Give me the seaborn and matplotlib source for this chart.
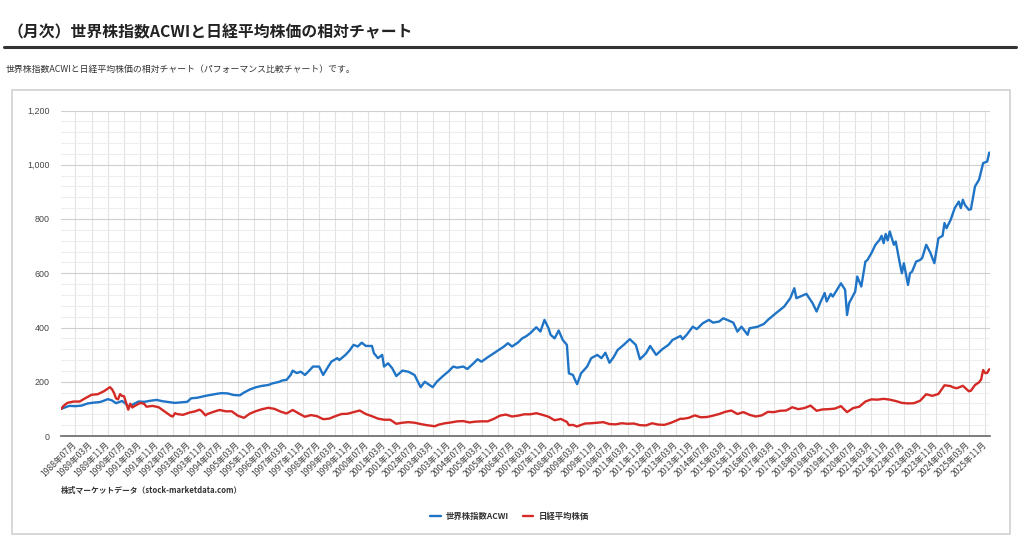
import numpy as np
import pandas as pd
import matplotlib
matplotlib.use("Agg")
import matplotlib.pyplot as plt
from matplotlib.ticker import MultipleLocator, FuncFormatter
from matplotlib.patches import Rectangle
from matplotlib.lines import Line2D
import seaborn as sns

# ---------------- data ----------------
series_names = ["世界株指数ACWI", "日経平均株価"]

acwi_months = [
    "1987-12", "1988-02", "1988-04", "1988-07", "1988-10", "1989-01", "1989-04", "1989-07", "1989-09", "1989-11",
    "1990-01", "1990-03", "1990-06", "1990-08", "1990-09", "1990-11", "1991-02", "1991-05", "1991-08", "1991-11",
    "1992-02", "1992-05", "1992-08", "1992-11", "1993-02", "1993-04", "1993-07", "1993-11", "1994-02", "1994-05",
    "1994-07", "1994-10", "1995-01", "1995-04", "1995-06", "1995-09", "1995-12", "1996-03", "1996-06", "1996-08",
    "1996-11", "1997-01", "1997-03", "1997-05", "1997-06", "1997-08", "1997-10", "1997-12", "1998-02", "1998-04",
    "1998-07", "1998-09", "1998-11", "1999-01", "1999-04", "1999-05", "1999-08", "1999-10", "1999-12", "2000-02",
    "2000-04", "2000-06", "2000-09", "2000-10", "2000-12", "2001-02", "2001-03", "2001-05", "2001-07", "2001-09",
    "2001-12", "2002-03", "2002-06", "2002-09", "2002-11", "2003-01", "2003-03", "2003-05", "2003-08", "2003-11",
    "2004-01", "2004-03", "2004-06", "2004-08", "2004-11", "2005-01", "2005-03", "2005-06", "2005-09", "2005-12",
    "2006-02", "2006-04", "2006-06", "2006-09", "2006-11", "2007-01", "2007-03", "2007-06", "2007-08", "2007-10",
    "2007-12", "2008-01", "2008-03", "2008-05", "2008-07", "2008-08", "2008-09", "2008-10", "2008-12", "2009-01",
    "2009-02", "2009-04", "2009-07", "2009-09", "2009-12", "2010-02", "2010-04", "2010-06", "2010-08", "2010-10",
    "2011-01", "2011-04", "2011-07", "2011-09", "2011-12", "2012-02", "2012-05", "2012-08", "2012-11", "2013-01",
    "2013-05", "2013-06", "2013-08", "2013-11", "2014-01", "2014-04", "2014-07", "2014-09", "2014-12", "2015-02",
    "2015-04", "2015-07", "2015-09", "2015-11", "2016-02", "2016-03", "2016-07", "2016-10", "2016-12", "2017-04",
    "2017-08", "2017-11", "2018-01", "2018-02", "2018-07", "2018-10", "2018-12", "2019-02", "2019-04", "2019-05",
    "2019-07", "2019-08", "2019-12", "2020-02", "2020-03", "2020-04", "2020-07", "2020-08", "2020-10", "2020-12",
    "2021-01", "2021-03", "2021-05", "2021-07", "2021-08", "2021-09", "2021-10", "2021-11", "2021-12", "2022-02",
    "2022-03", "2022-05", "2022-06", "2022-07", "2022-09", "2022-10", "2022-11", "2023-01", "2023-03", "2023-04",
    "2023-06", "2023-08", "2023-10", "2023-12", "2024-02", "2024-03", "2024-04", "2024-06", "2024-08", "2024-10",
    "2024-11", "2024-12", "2025-01", "2025-03", "2025-04", "2025-06", "2025-08", "2025-10", "2025-12", "2026-01",
]
acwi_values = [
    100, 106, 111, 110, 112, 120, 123, 125, 130, 136,
    131, 121, 129, 118, 108, 115, 127, 126, 130, 133,
    128, 125, 122, 124, 126, 139, 141, 148, 152, 156,
    158, 157, 151, 150, 160, 172, 180, 185, 188, 194,
    199, 205, 207, 225, 241, 232, 237, 225, 240, 256,
    256, 225, 250, 274, 287, 280, 299, 315, 336, 330,
    344, 332, 332, 305, 287, 299, 256, 268, 250, 221,
    241, 237, 225, 180, 200, 190, 180, 200, 221, 240,
    256, 252, 256, 247, 268, 283, 274, 290, 305, 320,
    330, 342, 330, 345, 360, 368, 379, 401, 385, 428,
    397, 373, 360, 389, 354, 345, 336, 231, 225, 207,
    191, 231, 256, 287, 299, 287, 307, 270, 290, 317,
    336, 357, 336, 283, 305, 332, 299, 320, 336, 354,
    369, 357, 373, 403, 394, 416, 428, 418, 422, 434,
    428, 418, 385, 403, 373, 397, 403, 413, 428, 453,
    477, 508, 545, 508, 524, 490, 459, 496, 527, 496,
    524, 514, 563, 539, 446, 490, 532, 588, 551, 643,
    649, 674, 705, 723, 738, 711, 745, 721, 754, 705,
    717, 637, 600, 637, 557, 600, 606, 643, 649, 656,
    705, 676, 637, 729, 738, 785, 766, 797, 840, 864,
    840, 871, 852, 834, 836, 920, 945, 1006, 1012, 1045,
]

nikkei_months = [
    "1987-12", "1988-01", "1988-03", "1988-06", "1988-09", "1988-12", "1989-03", "1989-06", "1989-09", "1989-12",
    "1990-01", "1990-02", "1990-03", "1990-04", "1990-05", "1990-06", "1990-07", "1990-08", "1990-09", "1990-10",
    "1990-11", "1990-12", "1991-03", "1991-05", "1991-06", "1991-09", "1991-12", "1992-03", "1992-06", "1992-07",
    "1992-08", "1992-09", "1992-12", "1993-03", "1993-06", "1993-08", "1993-09", "1993-11", "1993-12", "1994-03",
    "1994-06", "1994-09", "1994-12", "1995-03", "1995-06", "1995-09", "1995-12", "1996-03", "1996-06", "1996-09",
    "1996-12", "1997-03", "1997-06", "1997-09", "1997-12", "1998-03", "1998-06", "1998-09", "1998-12", "1999-03",
    "1999-06", "1999-09", "1999-12", "2000-03", "2000-06", "2000-09", "2000-12", "2001-03", "2001-06", "2001-09",
    "2001-12", "2002-03", "2002-06", "2002-09", "2002-12", "2003-03", "2003-04", "2003-06", "2003-09", "2003-12",
    "2004-03", "2004-06", "2004-09", "2004-12", "2005-03", "2005-06", "2005-09", "2005-12", "2006-03", "2006-06",
    "2006-09", "2006-12", "2007-03", "2007-06", "2007-09", "2007-12", "2008-03", "2008-06", "2008-09", "2008-10",
    "2008-12", "2009-02", "2009-03", "2009-06", "2009-09", "2009-12", "2010-03", "2010-06", "2010-09", "2010-12",
    "2011-03", "2011-06", "2011-09", "2011-12", "2012-03", "2012-06", "2012-09", "2012-12", "2013-03", "2013-05",
    "2013-06", "2013-09", "2013-12", "2014-03", "2014-06", "2014-09", "2014-12", "2015-03", "2015-06", "2015-09",
    "2015-12", "2016-03", "2016-06", "2016-09", "2016-12", "2017-03", "2017-06", "2017-09", "2017-12", "2018-03",
    "2018-06", "2018-09", "2018-12", "2019-03", "2019-06", "2019-09", "2019-12", "2020-03", "2020-06", "2020-09",
    "2020-12", "2021-03", "2021-06", "2021-09", "2021-12", "2022-03", "2022-06", "2022-09", "2022-12", "2023-03",
    "2023-06", "2023-09", "2023-12", "2024-03", "2024-06", "2024-07", "2024-09", "2024-12", "2025-03", "2025-04",
    "2025-06", "2025-08", "2025-09", "2025-10", "2025-11", "2025-12", "2026-01",
]
nikkei_values = [
    100, 110, 122, 127, 127, 140, 152, 154, 165, 180,
    172, 158, 139, 135, 154, 148, 146, 121, 97, 119,
    105, 110, 122, 118, 108, 111, 106, 90, 74, 72,
    84, 81, 78, 86, 91, 97, 93, 76, 81, 89,
    96, 91, 91, 75, 67, 83, 92, 99, 104, 100,
    90, 83, 96, 83, 71, 77, 73, 62, 64, 73,
    81, 82, 88, 94, 81, 73, 64, 60, 60, 45,
    49, 51, 49, 44, 40, 37, 36, 42, 47, 50,
    54, 55, 50, 53, 54, 54, 63, 75, 79, 72,
    75, 80, 80, 84, 78, 71, 58, 63, 52, 40,
    41, 35, 38, 46, 47, 49, 51, 44, 43, 47,
    45, 46, 40, 39, 47, 42, 41, 48, 57, 64,
    63, 67, 76, 69, 70, 75, 81, 89, 94, 81,
    88, 78, 72, 76, 89, 88, 93, 94, 106, 99,
    103, 112, 93, 98, 99, 101, 110, 88, 103, 108,
    127, 135, 134, 137, 134, 129, 122, 120, 121, 130,
    154, 148, 155, 187, 184, 180, 176, 185, 165, 167,
    188, 198, 208, 243, 232, 233, 246,
]

tick_labels = [
    "1988年07月", "1989年03月", "1989年11月", "1990年07月", "1991年03月", "1991年11月", "1992年07月",
    "1993年03月", "1993年11月", "1994年07月", "1995年03月", "1995年11月", "1996年07月", "1997年03月",
    "1997年11月", "1998年07月", "1999年03月", "1999年11月", "2000年07月", "2001年03月", "2001年11月",
    "2002年07月", "2003年03月", "2003年11月", "2004年07月", "2005年03月", "2005年11月", "2006年07月",
    "2007年03月", "2007年11月", "2008年07月", "2009年03月", "2009年11月", "2010年07月", "2011年03月",
    "2011年11月", "2012年07月", "2013年03月", "2013年11月", "2014年07月", "2015年03月", "2015年11月",
    "2016年07月", "2017年03月", "2017年11月", "2018年07月", "2019年03月", "2019年11月", "2020年07月",
    "2021年03月", "2021年11月", "2022年07月", "2023年03月", "2023年11月", "2024年07月", "2025年03月",
    "2025年11月",
]

title_text = "（月次）世界株指数ACWIと日経平均株価の相対チャート"
subtitle_text = "世界株指数ACWIと日経平均株価の相対チャート（パフォーマンス比較チャート）です。"
source_text = "株式マーケットデータ（stock-marketdata.com）"
colors = ["#1f74c6", "#d42a25"]

# ---------------- style ----------------
sns.set_theme(style="white")
plt.rcParams["font.family"] = ["Noto Sans CJK JP", "DejaVu Sans"]

W, H = 1024, 541
fig = plt.figure(figsize=(W / 100, H / 100), dpi=100)
fig.patch.set_facecolor("white")

# frame of the chart box
fig.add_artist(Rectangle((12 / W, 1 - 534 / H), (1010 - 12) / W, (534 - 90) / H,
                         transform=fig.transFigure, fill=False,
                         edgecolor="#d4d4d4", lw=1.3))

ax = fig.add_axes([61 / W, (H - 436) / H, (990 - 61) / W, (436 - 110.5) / H])

df = pd.concat([
    pd.DataFrame({"月": pd.to_datetime(acwi_months), "値": acwi_values, "系列": series_names[0]}),
    pd.DataFrame({"月": pd.to_datetime(nikkei_months), "値": nikkei_values, "系列": series_names[1]}),
], ignore_index=True)

sns.lineplot(data=df, x="月", y="値", hue="系列", hue_order=series_names,
             palette=colors, estimator=None, sort=False, lw=1.7, ax=ax)

# axes limits and grid
ax.set_ylim(0, 1200)
ax.set_xlim(pd.Timestamp("1987-11-28"), pd.Timestamp("2026-01-12"))
ax.yaxis.set_major_locator(MultipleLocator(200))
ax.yaxis.set_minor_locator(MultipleLocator(40))
ax.yaxis.set_major_formatter(FuncFormatter(lambda v, p: f"{int(v):,}"))

tick_pos = pd.to_datetime(tick_labels, format="%Y年%m月")
ax.set_xticks(tick_pos)
ax.set_xticklabels(tick_labels, rotation=45, ha="right", va="center",
                   rotation_mode="anchor", fontsize=6.2, color="#444444")

ax.set_axisbelow(True)
ax.grid(which="major", axis="y", color="#cfcfcf", lw=0.8)
ax.grid(which="minor", axis="y", color="#ededed", lw=0.8)
ax.grid(which="major", axis="x", color="#e2e2e2", lw=0.8)
ax.tick_params(axis="both", which="both", length=0)
ax.tick_params(axis="x", pad=5.5)
ax.tick_params(axis="y", pad=8, labelsize=6.4, labelcolor="#444444")
for lab in ax.get_yticklabels():
    lab.set_family(["Liberation Sans", "DejaVu Sans"])

for s in ["left", "top", "right"]:
    ax.spines[s].set_visible(False)
ax.spines["bottom"].set_color("#666666")
ax.spines["bottom"].set_linewidth(1.2)
ax.set_xlabel("")
ax.set_ylabel("")

# legend
sns.move_legend(ax, "center", bbox_to_anchor=(509.5 / W, 1 - 516 / H),
                bbox_transform=fig.transFigure, ncol=2, title=None, frameon=False,
                fontsize=6.0, handlelength=1.3, handletextpad=0.6, columnspacing=1.6)
leg = ax.get_legend()
for t in leg.get_texts():
    t.set_fontweight("bold")
    t.set_color("#333333")
for h in leg.get_lines():
    h.set_linewidth(1.7)

# page texts
fig.text(8 / W, 1 - 32 / H, title_text, fontsize=11.4, fontweight="bold",
         color="#222222", va="center", ha="left")
fig.add_artist(Line2D([4 / W, 1016 / W], [1 - 46.5 / H, 1 - 46.5 / H],
                      transform=fig.transFigure, color="#333333", lw=2.2))
fig.text(6 / W, 1 - 69 / H, subtitle_text, fontsize=6.4, color="#333333",
         va="center", ha="left")
fig.text(61 / W, 1 - 490 / H, source_text, fontsize=5.6, fontweight="bold",
         color="#333333", va="center", ha="left")

fig.savefig("out.png", dpi=100)
